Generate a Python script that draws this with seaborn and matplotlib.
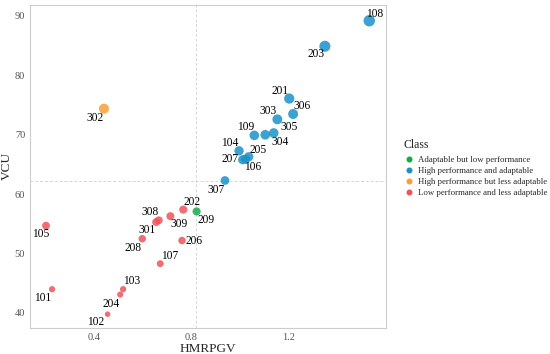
import pandas as pd
import matplotlib.pyplot as plt
import seaborn as sns
from matplotlib.lines import Line2D

# data
genotype = ['302', '108', '203', '201', '306', '303', '109', '304', '305',
            '104', '205', '207', '106', '307', '209', '206', '202', '309',
            '308', '301', '208', '107', '105', '101', '102', '204', '103']
hmrpgv = [0.439, 1.533, 1.350, 1.203, 1.219, 1.154, 1.059, 1.104, 1.139,
          0.996, 1.036, 1.011, 1.023, 0.938, 0.821, 0.761, 0.766, 0.713,
          0.665, 0.654, 0.597, 0.671, 0.200, 0.225, 0.454, 0.506, 0.518]
vcu = [74.4, 89.2, 84.9, 76.1, 73.5, 72.6, 69.9, 70.0, 70.3,
       67.3, 66.3, 65.8, 65.9, 62.3, 57.1, 52.2, 57.4, 56.3,
       55.6, 55.3, 52.5, 48.3, 54.7, 44.0, 39.8, 43.1, 44.0]
classes = ['Adaptable but low performance', 'High performance and adaptable',
           'High performance but less adaptable', 'Low performance and less adaptable']
colors = ['#16a94a', '#1a92c9', '#f7a03a', '#f0545a']

df = pd.DataFrame({'Genotype': genotype, 'HMRPGV': hmrpgv, 'VCU': vcu})
mx, my = 0.82, 62.2
df['Class'] = [
    (classes[1] if v >= my else classes[0]) if h >= mx
    else (classes[2] if v >= my else classes[3])
    for h, v in zip(df['HMRPGV'], df['VCU'])
]

# label offsets in pixels (dx right, dy down)
offsets = {'302': (-9, 9), '108': (5, -7), '203': (-9, 8), '201': (-9, -8),
           '306': (9, -8), '303': (-9, -8), '109': (-9, -8), '304': (15, 7),
           '305': (15, -6), '104': (-9, -8), '205': (9, -7), '207': (-13, -1),
           '106': (7, 8), '307': (-9, 9), '209': (9, 9), '206': (12, 0),
           '202': (9, -8), '309': (9, 8), '308': (-9, -8), '301': (-9, 8),
           '208': (-9, 9), '107': (9, -8), '105': (-5, 8), '101': (-9, 9),
           '102': (-12, 8), '204': (-9, 9), '103': (9, -8)}

sns.set_style('white')
plt.rcParams['font.family'] = ['Liberation Serif', 'DejaVu Serif']

fig = plt.figure(figsize=(5.5, 3.54), dpi=100)
ax = fig.add_axes([30 / 550, 1 - 328 / 354, 356 / 550, 323 / 354])

ax.axvline(mx, color='#d6d6d6', lw=0.7, ls=(0, (3, 2)), zorder=0)
ax.axhline(my, color='#d6d6d6', lw=0.7, ls=(0, (3, 2)), zorder=0)

sns.scatterplot(data=df, x='HMRPGV', y='VCU', hue='Class', hue_order=classes,
                palette=colors, size='VCU', sizes=(16, 68), alpha=0.85,
                linewidth=0, legend=False, ax=ax)

for g, h, v in zip(df['Genotype'], df['HMRPGV'], df['VCU']):
    dx, dy = offsets[g]
    ax.annotate(g, (h, v), xytext=(dx * 0.72, -dy * 0.72), textcoords='offset points',
                ha='center', va='center', fontsize=8.3, color='black')

ax.set_xlim(0.134, 1.602)
ax.set_ylim(37.47, 91.85)
ax.set_xticks([0.4, 0.8, 1.2])
ax.set_yticks([40, 50, 60, 70, 80, 90])
ax.set_xticklabels(['0.4', '0.8', '1.2'])
ax.tick_params(length=0, labelsize=7.5, labelcolor='#555555', pad=3.5)
ax.set_xlabel('HMRPGV', fontsize=9.5, labelpad=0.5)
ax.set_ylabel('VCU', fontsize=9.5, labelpad=1.5)
for s in ax.spines.values():
    s.set_color('#cccccc')
    s.set_linewidth(0.8)

handles = [Line2D([], [], marker='o', ls='', color=c, markersize=3.3) for c in colors]
leg = fig.legend(handles, classes, title='Class', loc='upper left',
                 bbox_to_anchor=(400 / 550, 1 - 135 / 354), frameon=False,
                 fontsize=6.3, title_fontsize=8.5, handletextpad=0.5,
                 labelspacing=0.32, handlelength=1.2, borderaxespad=0)
leg._legend_box.align = 'left'
leg._legend_box.sep = 4

fig.savefig('out.png', dpi=100)
